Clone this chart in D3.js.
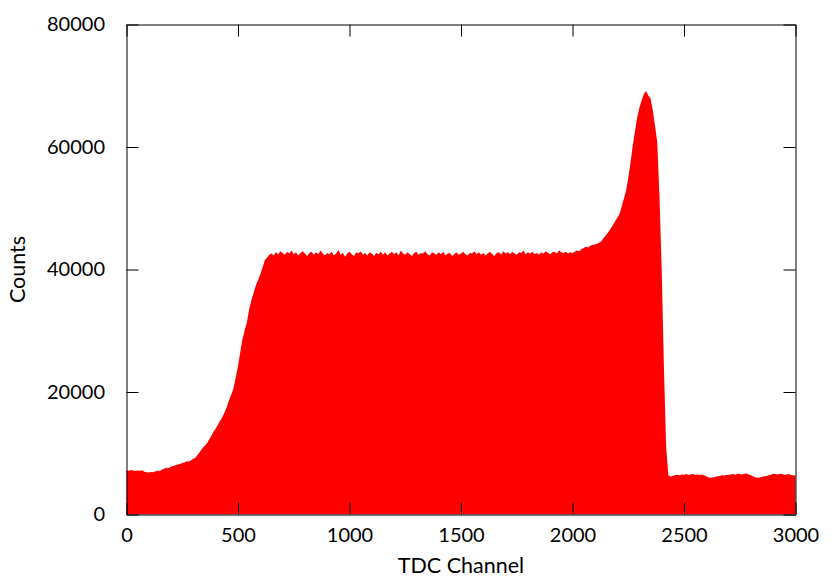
<!DOCTYPE html>
<html>
<head>
<meta charset="utf-8">
<script src="https://cdn.jsdelivr.net/npm/d3@7/dist/d3.min.js"></script>
<style>
  html, body { margin: 0; padding: 0; background: #fff; }
  svg { display: block; }
  text { font-family: Lato, "Liberation Sans", Arial, sans-serif; fill: #000; }
</style>
</head>
<body>
<svg id="chart" width="832" height="580"></svg>
<script>
// Histogram: counts per TDC channel bin (bins of 10 channels, starting at 0)
const binStart = 0;
const binWidth = 10;
const counts = [
  // 0 - 290
  7200, 7150, 7250, 7180, 7120, 7200, 7150, 7220, 7000, 6880,
  6850, 6950, 6900, 7050, 7150, 7100, 7350, 7500, 7650, 7600,
  7850, 7900, 8050, 8150, 8250, 8400, 8500, 8700, 8650, 8850,
  // 300 - 590
  9100, 9300, 9800, 10300, 10800, 11200, 11600, 12200, 12800, 13500,
  14000, 14700, 15300, 15900, 16700, 17600, 18700, 19600, 20600, 22400,
  24200, 26500, 28600, 30100, 31400, 33500, 35000, 36200, 37400, 38300,
  // 600 - 890
  39200, 40300, 41500, 41900, 42400, 42600, 42300, 42800, 42500, 43000,
  42700, 42400, 42900, 42600, 43100, 42500, 42800, 42300, 42700, 43000,
  42600, 42200, 42700, 42900, 42400, 42800, 42500, 43100, 42600, 42300,
  // 900 - 1190
  42700, 42500, 42900, 42300, 42600, 43200, 42400, 42700, 42100, 42600,
  42900, 42500, 42200, 42800, 42600, 43000, 42400, 42700, 42300, 42800,
  42600, 42200, 42700, 42500, 42900, 42400, 42800, 42300, 42600, 42900,
  // 1200 - 1490
  42500, 42800, 42300, 43100, 42600, 42400, 42800, 42500, 42200, 42700,
  42900, 42400, 42700, 42600, 43000, 42500, 42300, 42800, 42600, 42400,
  42800, 42500, 42900, 42300, 42600, 42700, 42200, 42500, 42800, 42400,
  // 1500 - 1790
  42600, 42900, 42500, 42300, 42700, 42600, 43000, 42500, 42800, 42400,
  42700, 42300, 42600, 42900, 42500, 42200, 42700, 42800, 42400, 43000,
  42600, 42800, 42500, 42900, 42600, 42400, 42800, 42700, 43100, 42500,
  // 1800 - 2090
  42800, 42600, 42900, 42500, 42700, 42400, 42800, 42600, 43000, 42700,
  42500, 42800, 42900, 42600, 43100, 42800, 42700, 42900, 42600, 42800,
  42700, 42900, 43100, 43000, 43300, 43500, 43700, 43600, 43900, 44000,
  // 2100 - 2390
  44100, 44200, 44400, 44600, 45200, 45600, 46100, 46600, 47200, 47800,
  48400, 49000, 50200, 51500, 52800, 55000, 57400, 60200, 62500, 64800,
  66400, 67600, 68700, 69100, 68400, 67900, 66000, 63500, 60800, 52000,
  // 2400 - 2690
  40000, 24000, 11000, 6400, 6200, 6300, 6450, 6500, 6400, 6550,
  6500, 6600, 6450, 6550, 6600, 6500, 6550, 6450, 6500, 6400,
  6250, 6050, 6000, 6050, 6150, 6250, 6300, 6400, 6350, 6450,
  // 2700 - 3000
  6500, 6550, 6600, 6500, 6650, 6600, 6550, 6650, 6700, 6550,
  6400, 6250, 6050, 6000, 6050, 6150, 6250, 6300, 6400, 6500,
  6650, 6600, 6550, 6650, 6600, 6500, 6550, 6600, 6450, 6400,
  6350
];

const xTicks = [0, 500, 1000, 1500, 2000, 2500, 3000];
const yTicks = [0, 20000, 40000, 60000, 80000];
const xDomain = [0, 3000];
const yDomain = [0, 80000];
const xLabel = "TDC Channel";
const yLabel = "Counts";
const fillColor = "#ff0000";

const svg = d3.select("#chart");
const pLeft = 126.5, pRight = 795.5, pTop = 24.5, pBottom = 514.5;

const x = d3.scaleLinear().domain(xDomain).range([pLeft, pRight]);
const y = d3.scaleLinear().domain(yDomain).range([pBottom, pTop]);

const data = counts.map((c, i) => ({ ch: binStart + i * binWidth, c }));

const area = d3.area()
  .x(d => x(d.ch))
  .y0(y(0))
  .y1(d => y(d.c))
  .curve(d3.curveLinear);

svg.append("path")
  .datum(data)
  .attr("d", area)
  .attr("fill", fillColor)
  .attr("stroke", "none");

const tickLen = 12;
const fontStack = 'Lato, "Liberation Sans", Arial, sans-serif';

function styleAxis(g) {
  g.selectAll("path.domain").attr("stroke", "#000").attr("stroke-width", 1);
  g.selectAll(".tick line").attr("stroke", "#000").attr("stroke-width", 1);
  g.selectAll(".tick text")
    .attr("fill", "#000")
    .style("font-family", fontStack)
    .style("font-size", "20px");
}

// bottom
svg.append("g")
  .attr("transform", `translate(0,${pBottom})`)
  .call(d3.axisBottom(x).tickValues(xTicks).tickSizeInner(-tickLen).tickSizeOuter(0).tickPadding(13.5).tickFormat(d3.format("d")))
  .call(styleAxis);

// top
svg.append("g")
  .attr("transform", `translate(0,${pTop})`)
  .call(d3.axisTop(x).tickValues(xTicks).tickSizeInner(-tickLen).tickSizeOuter(0).tickFormat(""))
  .call(styleAxis);

// left
svg.append("g")
  .attr("transform", `translate(${pLeft},0)`)
  .call(d3.axisLeft(y).tickValues(yTicks).tickSizeInner(-tickLen).tickSizeOuter(0).tickPadding(21.5).tickFormat(d3.format("d")))
  .call(styleAxis);

// right
svg.append("g")
  .attr("transform", `translate(${pRight},0)`)
  .call(d3.axisRight(y).tickValues(yTicks).tickSizeInner(-tickLen).tickSizeOuter(0).tickFormat(""))
  .call(styleAxis);

// axis labels
svg.append("text")
  .attr("x", (pLeft + pRight) / 2)
  .attr("y", 572.5)
  .attr("text-anchor", "middle")
  .style("font-family", fontStack)
  .style("font-size", "21.5px")
  .text(xLabel);

svg.append("text")
  .attr("transform", `translate(25,${(pTop + pBottom) / 2}) rotate(-90)`)
  .attr("text-anchor", "middle")
  .style("font-family", fontStack)
  .style("font-size", "21.5px")
  .text(yLabel);
</script>
</body>
</html>
